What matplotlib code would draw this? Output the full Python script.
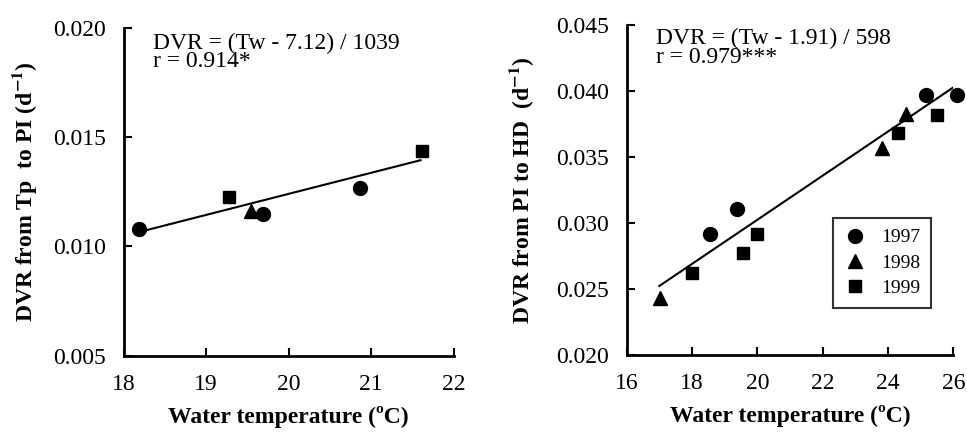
import numpy as np
import matplotlib.pyplot as plt

plt.rcParams['font.family'] = ['Liberation Serif', 'DejaVu Serif']
plt.rcParams['mathtext.fontset'] = 'stix'

# left panel: Tp to PI
l97_x = [18.19, 19.69, 20.87]
l97_y = [0.01078, 0.01146, 0.01265]
l98_x = [19.54]
l98_y = [0.01162]
l99_x = [19.28, 21.62]
l99_y = [0.01224, 0.01434]
l_fit = (7.12, 1039)
l_fit_range = [18.2, 21.6]

# right panel: PI to HD
r97_x = [18.55, 19.37, 25.17, 26.1]
r97_y = [0.0292, 0.0311, 0.0397, 0.0397]
r98_x = [17.01, 23.8, 24.55]
r98_y = [0.0243, 0.0357, 0.0383]
r99_x = [18.0, 19.56, 19.99, 24.3, 25.5]
r99_y = [0.0262, 0.0277, 0.0292, 0.0368, 0.0382]
r_fit = (1.91, 598)
r_fit_range = [17.0, 26.0]

fig = plt.figure(figsize=(9.67, 4.32), dpi=100)
ax1 = fig.add_axes([0.128, 0.177, 0.341, 0.759])
ax2 = fig.add_axes([0.648, 0.178, 0.338, 0.764])


def style(ax):
    for s in ['top', 'right']:
        ax.spines[s].set_visible(False)
    for s in ['left', 'bottom']:
        ax.spines[s].set_linewidth(2)
    ax.tick_params(direction='in', length=6, width=1.5, labelsize=17, pad=13)


def draw(ax, x97, y97, x98, y98, x99, y99, fit, fit_range):
    ax.plot(x97, y97, 'o', color='black', markersize=10, label='1997', clip_on=False)
    ax.plot(x98, y98, '^', color='black', markersize=10, label='1998', clip_on=False)
    ax.plot(x99, y99, 's', color='black', markersize=9, label='1999', clip_on=False)
    xs = np.array(fit_range)
    ax.plot(xs, (xs - fit[0]) / fit[1], color='black', linewidth=1.5)


draw(ax1, l97_x, l97_y, l98_x, l98_y, l99_x, l99_y, l_fit, l_fit_range)
ax1.set_xlim(18, 22)
ax1.set_ylim(0.005, 0.020)
ax1.set_xticks([18, 19, 20, 21, 22])
ax1.set_yticks([0.005, 0.010, 0.015, 0.020])
ax1.set_yticklabels(['0.005', '0.010', '0.015', '0.020'])
style(ax1)
ax1.set_ylabel('DVR from Tp  to PI (d$^{\\mathbf{-1}}$)', fontsize=17, fontweight='bold', labelpad=10)
ax1.set_xlabel('Water temperature (ºC)', fontsize=17, fontweight='bold', labelpad=8)
ax1.text(0.09, 0.985, 'DVR = (Tw - 7.12) / 1039\nr = 0.914*', transform=ax1.transAxes,
         fontsize=17, va='top', ha='left', linespacing=0.85)

draw(ax2, r97_x, r97_y, r98_x, r98_y, r99_x, r99_y, r_fit, r_fit_range)
ax2.set_xlim(16, 26)
ax2.set_ylim(0.020, 0.045)
ax2.set_xticks([16, 18, 20, 22, 24, 26])
ax2.set_yticks([0.020, 0.025, 0.030, 0.035, 0.040, 0.045])
ax2.set_yticklabels(['0.020', '0.025', '0.030', '0.035', '0.040', '0.045'])
style(ax2)
ax2.set_ylabel('DVR from PI to HD  (d$^{\\mathbf{-1}}$)', fontsize=17, fontweight='bold', labelpad=14)
ax2.set_xlabel('Water temperature (ºC)', fontsize=17, fontweight='bold', labelpad=8)
ax2.text(0.09, 0.99, 'DVR = (Tw - 1.91) / 598\nr = 0.979***', transform=ax2.transAxes,
         fontsize=17, va='top', ha='left', linespacing=0.85)
leg = ax2.legend(loc='upper left', bbox_to_anchor=(0.632, 0.415), fontsize=14, frameon=True,
                 fancybox=False, edgecolor='black', handletextpad=0.8, borderpad=0.55,
                 labelspacing=0.4, handlelength=1.1, borderaxespad=0)
leg.get_frame().set_linewidth(1.5)

fig.savefig('out.png', dpi=100)
